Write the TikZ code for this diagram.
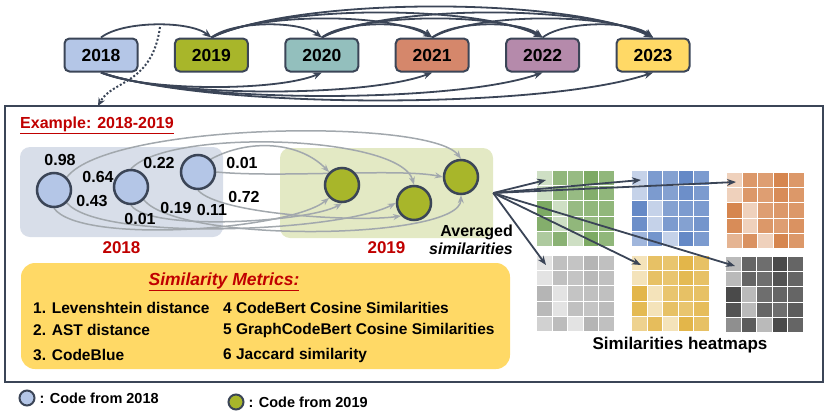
\documentclass[tikz,border=0pt]{standalone}
\usepackage{fontspec}
\setmainfont{Liberation Sans}
\usepackage{tikz}
\usepackage{xcolor}
\usetikzlibrary{positioning, arrows.meta, backgrounds}
\definecolor{edge}{HTML}{3B4557}
\definecolor{yr18}{HTML}{B4C6E7}
\definecolor{yr19}{HTML}{A8B62A}
\definecolor{yr20}{HTML}{93BFBD}
\definecolor{yr21}{HTML}{D5876B}
\definecolor{yr22}{HTML}{B58AAB}
\definecolor{yr23}{HTML}{FFD966}
\definecolor{reg18}{HTML}{D8DEE9}
\definecolor{reg19}{HTML}{E3E9C4}
\definecolor{redlab}{HTML}{C00000}
\definecolor{flow}{HTML}{A2A8AD}
\definecolor{hmgreen}{HTML}{7DAA64}
\definecolor{hmblue}{HTML}{6589C6}
\definecolor{hmorange}{HTML}{D6864F}
\definecolor{hmgrey}{HTML}{B5B5B5}
\definecolor{hmgold}{HTML}{E3B64A}
\definecolor{hmdark}{HTML}{4A4A4A}
\newcommand{\heatvals}{{38,85,80,100,85},{38,85,80,95,85},{100,38,80,85,85},{95,38,85,80,90},{62,90,38,100,85}}

\begin{document}
\begin{tikzpicture}[x=1pt, y=-1pt,
      every node/.style={font=\fontsize{16}{18}\selectfont\bfseries, align=center},
      yearbox/.style={draw=edge, line width=2pt, rounded corners=5pt, minimum width=73pt, minimum height=33pt, inner sep=0pt, font=\fontsize{17.5}{19}\selectfont\bfseries},
      region/.style={rounded corners=10pt, inner sep=0pt},
      code/.style={circle, draw=edge, line width=2.5pt, minimum size=34pt, inner sep=0pt},
      dot/.style={circle, draw=edge, line width=2pt, minimum size=15pt, inner sep=0pt},
      link/.style={draw=edge, line width=1.8pt, -{Stealth[length=9pt, width=7pt]}},
      flowline/.style={draw=flow, line width=1.5pt, -{Stealth[length=8pt, width=6pt]}},
      val/.style={inner sep=1pt},
      metric/.style={anchor=west, font=\fontsize{15.5}{17}\selectfont\bfseries, inner sep=0pt}]
    \useasboundingbox (0,0) rectangle (830,418);

    \node[yearbox, fill=yr18] (y18) at (101,55) {2018};
    \node[yearbox, fill=yr19, right=35.4pt of y18] (y19) {2019};
    \node[yearbox, fill=yr20, right=35.4pt of y19] (y20) {2020};
    \node[yearbox, fill=yr21, right=35.4pt of y20] (y21) {2021};
    \node[yearbox, fill=yr22, right=35.4pt of y21] (y22) {2022};
    \node[yearbox, fill=yr23, right=35.4pt of y22] (y23) {2023};
    \foreach \a/\b in {18/19,19/20,19/21,19/22,19/23,20/21,20/22,20/23,21/22,21/23,22/23}{
      \pgfmathsetmacro\k{9+8*(\b-\a)}
      \pgfmathsetmacro\dx{22*(\b-\a)}
      \draw[link] (y\a.north) .. controls +(\dx,-\k) and +(-\dx,-\k) .. (y\b.north);
    }
    \foreach \b in {20,21,22,23}{
      \pgfmathsetmacro\k{7+6*(\b-18)}
      \pgfmathsetmacro\dx{22*(\b-18)}
      \draw[link] (y18.south) .. controls +(\dx,\k) and +(-\dx,\k) .. (y\b.south);
    }

    \node[draw=edge, line width=2pt, minimum width=818pt, minimum height=276pt, inner sep=0pt] (panel) at (414,244) {};
    \coordinate (tail) at (160,27);
    \coordinate (head) at (98,106);
    \draw[edge, line width=2pt, dash pattern=on 2pt off 2pt, -{Stealth[length=8pt, width=7pt]}] (tail) .. controls (152,85) and (112,80) .. (head);
    \node[anchor=west, text=redlab, inner sep=0pt] (ex) at (20,125) {\underline{Example: 2018-2019}};

    \node[code, fill=yr18] (c1) at (54,190) {};
    \node[code, fill=yr18] (c2) at (131,187) {};
    \node[code, fill=yr18] (c3) at (198,172) {};
    \node[code, fill=yr19] (g1) at (342,185) {};
    \node[code, fill=yr19] (g2) at (414,203) {};
    \node[code, fill=yr19] (g3) at (461,177) {};
    \begin{scope}[on background layer]
      \node[region, fill=reg18, minimum width=203pt, minimum height=90pt] (r18) at (121.5,192) {};
      \node[region, fill=reg19, minimum width=213pt, minimum height=90pt] (r19) at (386.5,193) {};
      \draw[flowline] (c1.north east) .. controls (110,122) and (430,118) .. (g3.north);
      \draw[flowline] (c2.north) .. controls (170,128) and (400,135) .. (g2.north);
      \draw[flowline] (c3.north east) .. controls (250,138) and (300,142) .. (g1.north west);
      \draw[flowline] (c1.south) .. controls (80,245) and (290,230) .. (g1.south west);
      \draw[flowline] (c1.south east) .. controls (100,242) and (340,232) .. (g2.west);
      \draw[flowline] (c2.south) .. controls (150,232) and (310,222) .. (g1.south);
      \draw[flowline] (c2.south east) .. controls (180,244) and (460,240) .. (g3.south);
      \draw[flowline] (c3.south) .. controls (220,215) and (360,222) .. (g2.south west);
      \draw[flowline] (c3.east) .. controls (280,178) and (400,168) .. (g3.west);
    \end{scope}
    \node[text=redlab, inner sep=0pt, font=\fontsize{17}{18}\selectfont\bfseries, below=4pt of r18] (l18) {2018};
    \node[text=redlab, inner sep=0pt, font=\fontsize{17}{18}\selectfont\bfseries, below=3pt of r19] (l19) {2019};

    \node[val] (v1) at (60,160) {0.98};
    \node[val] (v2) at (98,177) {0.64};
    \node[val] (v3) at (92,201) {0.43};
    \node[val] (v4) at (159,163) {0.22};
    \node[val] (v5) at (140,219) {0.01};
    \node[val] (v6) at (176,208) {0.19};
    \node[val] (v7) at (212,210) {0.11};
    \node[val] (v8) at (242,163) {0.01};
    \node[val] (v9) at (244,197) {0.72};
    \node[anchor=north east, align=right, inner sep=0pt] (avg) at (513,225) {Averaged\\\textit{similarities}};

    \foreach \hx/\hy/\hc [count=\n] in {537/171/hmgreen, 632/171/hmblue, 727/173/hmorange, 537/256/hmgrey, 632/256/hmgold, 726/257/hmdark}{
      \foreach \row [count=\i] in \heatvals
        \foreach \v [count=\j] in \row
          \fill[\hc!\v] ({\hx+(\j-1)*15.6},{\hy+(\i-1)*15.2}) rectangle +(14.6,14.2);
      \coordinate (hm\n) at (\hx+9,\hy+9);
    }
    \foreach \t in {1,...,6}
      \draw[link] (r19.east) -- (hm\t);
    \node[font=\fontsize{17}{18}\selectfont\bfseries] (hmlabel) at (680,345) {Similarities heatmaps};

    \node[fill=yr23, rounded corners=14pt, minimum width=489pt, minimum height=106pt, inner sep=0pt] (metrics) at (265.5,316) {};
    \node[text=redlab, font=\fontsize{17.5}{19}\selectfont\bfseries\itshape] (mtitle) at (224,282) {\underline{Similarity Metrics:}};
    \node[metric] (m1) at (33,308) {1. Levenshtein distance};
    \node[metric] (m2) at (33,330) {2. AST distance};
    \node[metric] (m3) at (33,355) {3. CodeBlue};
    \node[metric] (m4) at (223,308) {4 CodeBert Cosine Similarities};
    \node[metric] (m5) at (223,330) {5 GraphCodeBert Cosine Similarities};
    \node[metric] (m6) at (223,355) {6 Jaccard similarity};

    \node[dot, fill=yr18] (k18) at (27,398) {};
    \node[right=4pt of k18, inner sep=0pt, font=\fontsize{14.5}{16}\selectfont\bfseries] (k18t) {: Code from 2018};
    \node[dot, fill=yr19] (k19) at (236,402) {};
    \node[right=4pt of k19, inner sep=0pt, font=\fontsize{14.5}{16}\selectfont\bfseries] (k19t) {: Code from 2019};
  \end{tikzpicture}
\end{document}
